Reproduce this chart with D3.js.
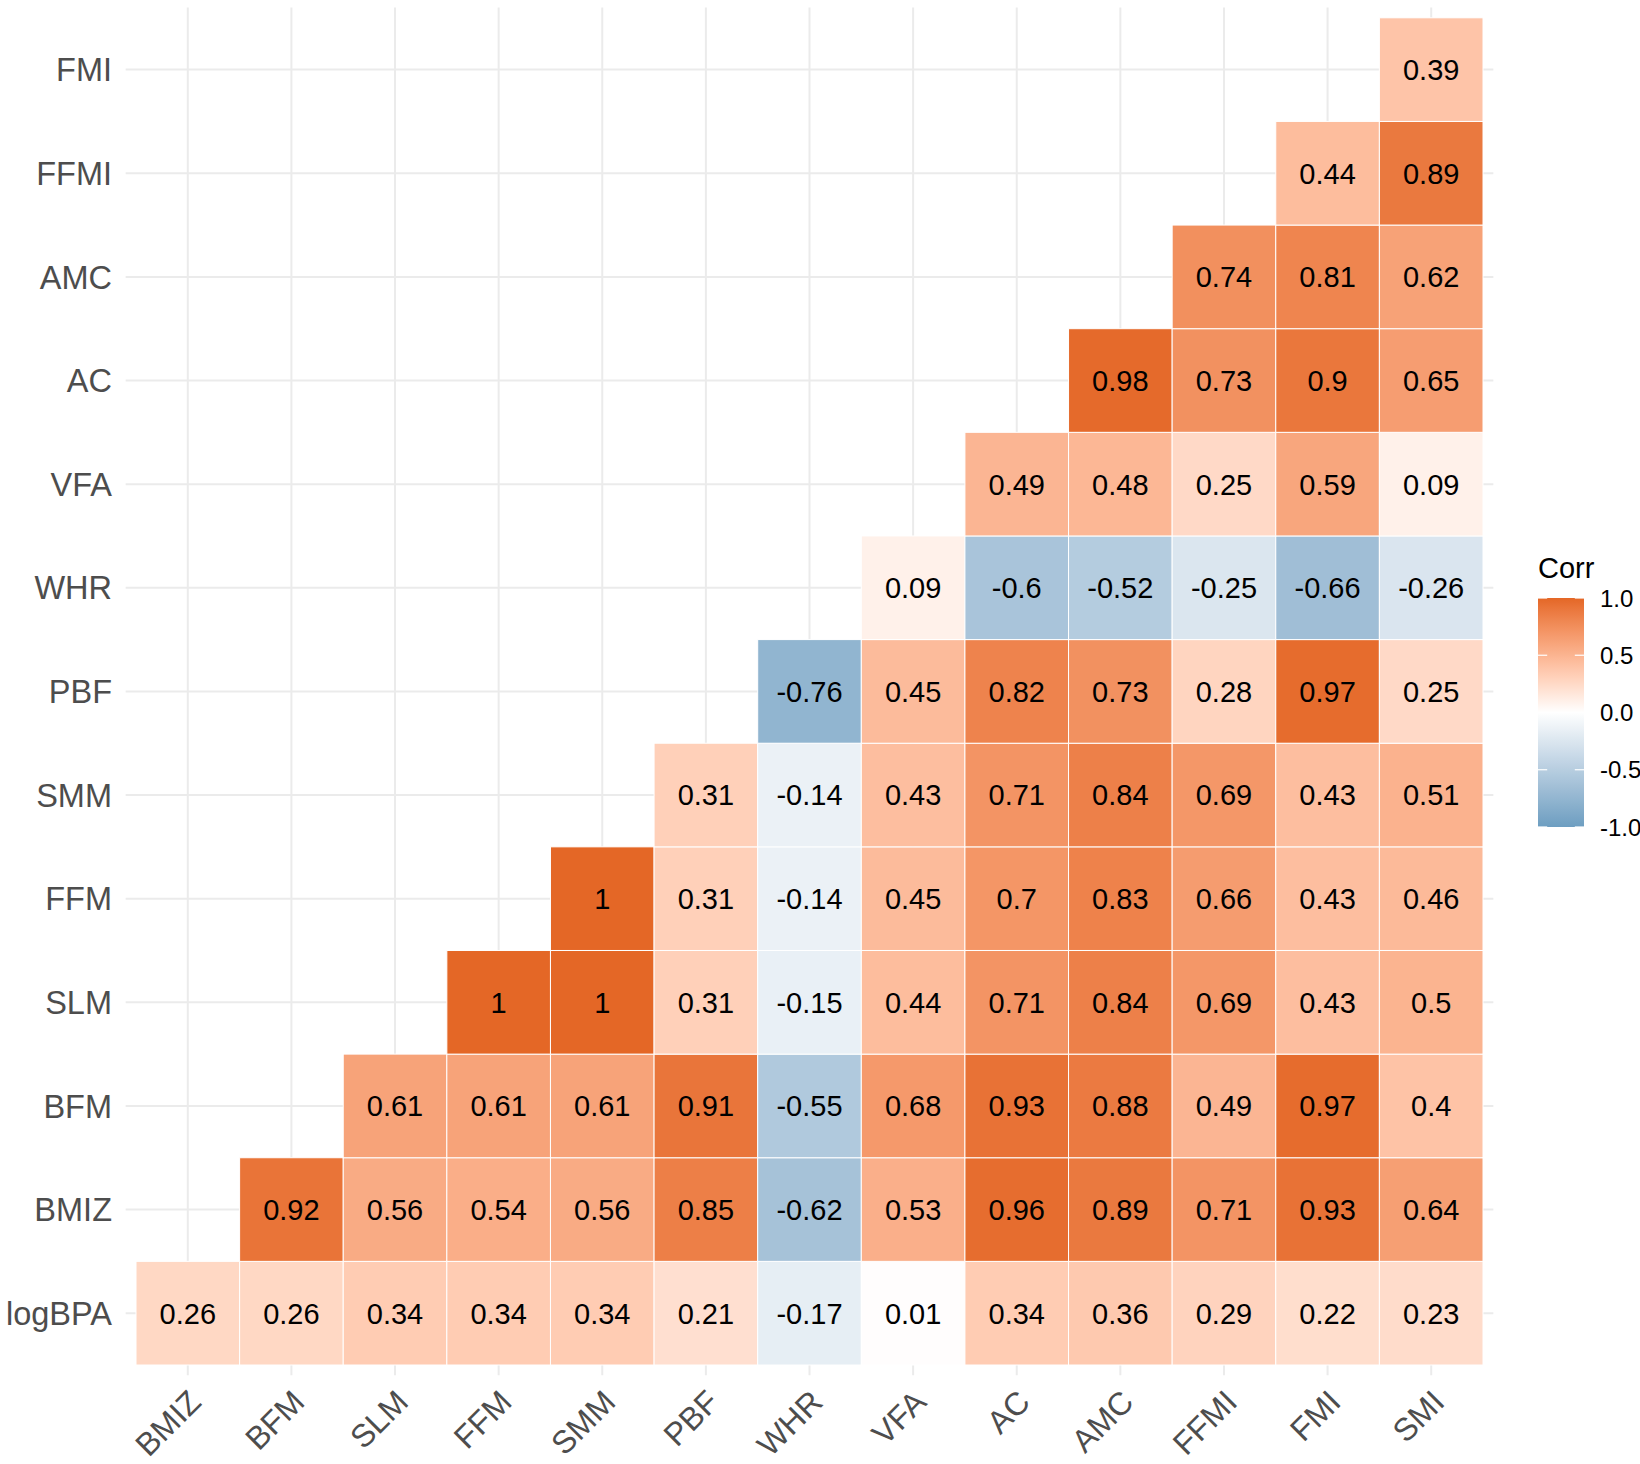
<!DOCTYPE html>
<html>
<head>
<meta charset="utf-8">
<script src="https://cdn.jsdelivr.net/npm/d3@7"></script>
<style>
  html, body { margin: 0; padding: 0; background: #fff; }
  svg { display: block; font-family: "Liberation Sans", Arial, Helvetica, sans-serif; }
</style>
</head>
<body>
<svg id="chart" width="1640" height="1464"></svg>
<script>
// ---- data ----
const xVars = ["BMIZ","BFM","SLM","FFM","SMM","PBF","WHR","VFA","AC","AMC","FFMI","FMI","SMI"];
const yVars = ["logBPA","BMIZ","BFM","SLM","FFM","SMM","PBF","WHR","VFA","AC","AMC","FFMI","FMI"];
// row i (yVars[i]) holds correlations with xVars[i..12]
const rowLogBPA = [0.26,0.26,0.34,0.34,0.34,0.21,-0.17,0.01,0.34,0.36,0.29,0.22,0.23];
const rowBMIZ   = [0.92,0.56,0.54,0.56,0.85,-0.62,0.53,0.96,0.89,0.71,0.93,0.64];
const rowBFM    = [0.61,0.61,0.61,0.91,-0.55,0.68,0.93,0.88,0.49,0.97,0.4];
const rowSLM    = [1,1,0.31,-0.15,0.44,0.71,0.84,0.69,0.43,0.5];
const rowFFM    = [1,0.31,-0.14,0.45,0.7,0.83,0.66,0.43,0.46];
const rowSMM    = [0.31,-0.14,0.43,0.71,0.84,0.69,0.43,0.51];
const rowPBF    = [-0.76,0.45,0.82,0.73,0.28,0.97,0.25];
const rowWHR    = [0.09,-0.6,-0.52,-0.25,-0.66,-0.26];
const rowVFA    = [0.49,0.48,0.25,0.59,0.09];
const rowAC     = [0.98,0.73,0.9,0.65];
const rowAMC    = [0.74,0.81,0.62];
const rowFFMI   = [0.44,0.89];
const rowFMI    = [0.39];
const corrRows = [rowLogBPA,rowBMIZ,rowBFM,rowSLM,rowFFM,rowSMM,rowPBF,rowWHR,rowVFA,rowAC,rowAMC,rowFFMI,rowFMI];
const legendTicks = [1.0, 0.5, 0.0, -0.5, -1.0];
const colLow = "#6D9EC1", colMid = "#FFFFFF", colHigh = "#E46726";

// ---- build cells ----
const cells = [];
corrRows.forEach((row, i) => {
  row.forEach((v, k) => {
    cells.push({ y: yVars[i], x: xVars[i + k], v: v });
  });
});

const svg = d3.select("#chart");
const x = d3.scaleBand().domain(xVars).range([136, 1483]).padding(0);
const y = d3.scaleBand().domain(yVars).range([1365, 17.8]).padding(0);
const bw = x.bandwidth(), bh = y.bandwidth();
const ext = 0.1 * bw;

const loInterp = d3.interpolateLab(colLow, colMid);
const hiInterp = d3.interpolateLab(colMid, colHigh);
const color = v => v < 0 ? loInterp(1 + Math.max(-1, v)) : hiInterp(Math.min(1, v));

// grid
const grid = svg.append("g").attr("stroke", "#EBEBEB").attr("stroke-width", 2);
grid.selectAll("line.v").data(xVars).join("line")
  .attr("x1", d => x(d) + bw / 2).attr("x2", d => x(d) + bw / 2)
  .attr("y1", 17.8 - ext).attr("y2", 1365 + ext);
grid.selectAll("line.h").data(yVars).join("line")
  .attr("y1", d => y(d) + bh / 2).attr("y2", d => y(d) + bh / 2)
  .attr("x1", 136 - ext).attr("x2", 1483 + ext);

// tiles
svg.append("g").selectAll("rect").data(cells).join("rect")
  .attr("x", d => x(d.x)).attr("y", d => y(d.y))
  .attr("width", bw).attr("height", bh)
  .attr("fill", d => color(d.v))
  .attr("stroke", "#FFFFFF").attr("stroke-width", 1);

// cell labels
svg.append("g").selectAll("text").data(cells).join("text")
  .attr("x", d => x(d.x) + bw / 2).attr("y", d => y(d.y) + bh / 2)
  .attr("dy", "0.36em")
  .attr("text-anchor", "middle")
  .attr("font-size", 29).attr("fill", "#000")
  .text(d => String(d.v));

// y axis labels
svg.append("g").selectAll("text").data(yVars).join("text")
  .attr("x", 112).attr("y", d => y(d) + bh / 2)
  .attr("dy", "0.36em").attr("text-anchor", "end")
  .attr("font-size", 32.5).attr("fill", "#4D4D4D")
  .text(d => d);

// x axis labels (rotated 45)
svg.append("g").selectAll("text").data(xVars).join("text")
  .attr("transform", d => `translate(${x(d) + bw / 2 + 15},1404) rotate(-45)`)
  .attr("text-anchor", "end")
  .attr("font-size", 32).attr("fill", "#4D4D4D")
  .text(d => d);

// legend
const lg = svg.append("g");
const defs = svg.append("defs");
const grad = defs.append("linearGradient").attr("id", "lgrad")
  .attr("x1", 0).attr("y1", 1).attr("x2", 0).attr("y2", 0);
d3.range(0, 1.0001, 0.02).forEach(t => {
  grad.append("stop").attr("offset", t).attr("stop-color", color(-1 + 2 * t));
});
const ly = d3.scaleLinear().domain([-1, 1]).range([827, 598]);
const lx0 = 1538, lx1 = 1584;
lg.append("text").attr("x", 1538).attr("y", 578).attr("font-size", 29).attr("fill", "#000").text("Corr");
lg.append("rect").attr("x", lx0).attr("y", ly(1)).attr("width", lx1 - lx0).attr("height", ly(-1) - ly(1))
  .attr("fill", "url(#lgrad)");
const tl = (lx1 - lx0) / 5;
lg.selectAll("line.tl").data(legendTicks).join("line")
  .attr("x1", lx0).attr("x2", lx0 + tl).attr("y1", d => ly(d)).attr("y2", d => ly(d))
  .attr("stroke", "#fff").attr("stroke-width", 1.2);
lg.selectAll("line.tr").data(legendTicks).join("line")
  .attr("x1", lx1 - tl).attr("x2", lx1).attr("y1", d => ly(d)).attr("y2", d => ly(d))
  .attr("stroke", "#fff").attr("stroke-width", 1.2);
const fmt = v => (v < 0 ? "-" : "") + Math.abs(v).toFixed(1);
lg.selectAll("text.lab").data(legendTicks).join("text")
  .attr("x", 1600).attr("y", d => ly(d)).attr("dy", "0.36em")
  .attr("font-size", 24).attr("fill", "#000")
  .text(d => fmt(d));
</script>
</body>
</html>
